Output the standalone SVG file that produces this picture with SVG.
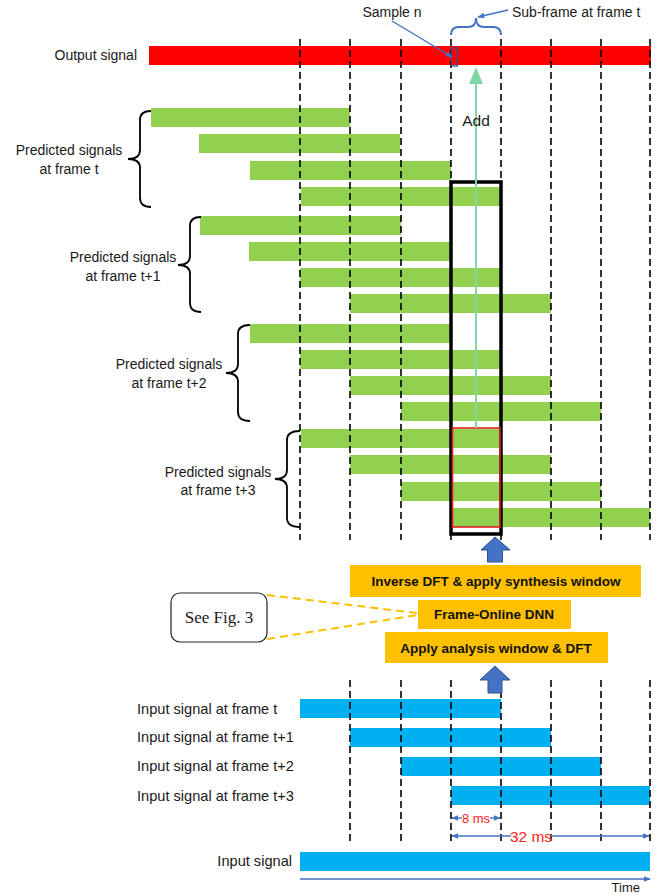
<svg xmlns="http://www.w3.org/2000/svg" width="667" height="896" viewBox="0 0 667 896">
<style>
text{font-family:"Liberation Sans",Arial,sans-serif;fill:#1a1a1a}
.lbl{font-size:14px}
.inl{font-size:14.6px}
.bold{font-size:13.5px;font-weight:bold;text-anchor:middle;fill:#111}
.g{fill:#92d050}
.b{fill:#00b0f0}
.dash{stroke:#000;stroke-width:1.6;stroke-dasharray:7 4;fill:none}
.brace{fill:none;stroke:#000;stroke-width:1.8}
.blue{stroke:#4472c4;stroke-width:1.4;fill:none}
.orange{fill:#ffc000}
</style>
<defs>
<marker id="ah" viewBox="0 0 10 10" refX="9" refY="5" markerWidth="7" markerHeight="7" orient="auto-start-reverse" markerUnits="userSpaceOnUse">
<path d="M0,1 L10,5 L0,9 z" fill="#4472c4"/>
</marker>
</defs>

<g id="output-signal">
<rect x="149" y="46" width="502" height="19" fill="#ff0000"/>
<text class="lbl" x="137" y="60" text-anchor="end">Output signal</text>
</g>

<g id="predicted-t">
<rect class="g" x="151" y="108" width="199" height="19"/>
<rect class="g" x="199" y="134" width="201" height="19"/>
<rect class="g" x="250" y="161" width="201" height="19"/>
<rect class="g" x="301" y="187" width="200" height="19"/>
<path class="brace" d="M151,111 Q140,111 140,120 L140,150 Q140,159 128,159 Q140,159 140,168 L140,198 Q140,207 151,207"/>
<text class="lbl" text-anchor="middle"><tspan x="69" y="155">Predicted signals</tspan><tspan x="69" y="174">at frame t</tspan></text>
</g>

<g id="predicted-t1">
<rect class="g" x="200" y="216" width="201" height="19"/>
<rect class="g" x="249" y="242" width="202" height="19"/>
<rect class="g" x="300" y="268" width="201" height="19"/>
<rect class="g" x="350" y="294" width="201" height="19"/>
<path class="brace" d="M201,217 Q190,217 190,226 L190,256 Q190,265 178,265 Q190,265 190,274 L190,303 Q190,312 201,312"/>
<text class="lbl" text-anchor="middle"><tspan x="123" y="262">Predicted signals</tspan><tspan x="123" y="281">at frame t+1</tspan></text>
</g>

<g id="predicted-t2">
<rect class="g" x="250" y="324" width="201" height="19"/>
<rect class="g" x="300" y="350" width="201" height="19"/>
<rect class="g" x="350" y="376" width="201" height="19"/>
<rect class="g" x="401" y="402" width="200" height="19"/>
<path class="brace" d="M250,325 Q238,325 238,334 L238,364 Q238,373 226,373 Q238,373 238,382 L238,412 Q238,421 250,421"/>
<text class="lbl" text-anchor="middle"><tspan x="169" y="369">Predicted signals</tspan><tspan x="169" y="388">at frame t+2</tspan></text>
</g>

<g id="predicted-t3">
<rect class="g" x="301" y="429" width="200" height="19"/>
<rect class="g" x="350" y="455" width="201" height="19"/>
<rect class="g" x="401" y="482" width="200" height="19"/>
<rect class="g" x="451" y="508" width="199" height="19"/>
<path class="brace" d="M300,431 Q287,431 287,440 L287,470 Q287,479 275,479 Q287,479 287,488 L287,518 Q287,527 300,527"/>
<text class="lbl" text-anchor="middle"><tspan x="218" y="477">Predicted signals</tspan><tspan x="218" y="495">at frame t+3</tspan></text>
</g>

<g id="input-frames">
<rect class="b" x="300" y="699" width="201" height="19"/>
<rect class="b" x="350" y="728" width="201" height="19"/>
<rect class="b" x="401" y="757" width="200" height="19"/>
<rect class="b" x="451" y="786" width="199" height="19"/>
<text class="inl" x="137" y="714">Input signal at frame t</text>
<text class="inl" x="137" y="742">Input signal at frame t+1</text>
<text class="inl" x="137" y="771">Input signal at frame t+2</text>
<text class="inl" x="137" y="801">Input signal at frame t+3</text>
</g>

<g id="input-signal">
<rect class="b" x="300" y="852" width="350" height="19"/>
<text class="inl" x="292" y="866" text-anchor="end">Input signal</text>
</g>

<g id="grid">
<path class="dash" d="M300,39V540M350,39V540M401,39V540M451,39V540M501,39V540M551,39V540M601,39V540M650,39V540"/>
<path class="dash" d="M350,680V843M401,680V843M451,680V843M501,680V843M551,680V843M601,680V843M650,680V843"/>
</g>

<g id="subframe-box">
<rect x="451" y="182" width="50" height="352" fill="none" stroke="#000" stroke-width="3.5"/>
<rect x="452.5" y="428" width="47.5" height="99" fill="none" stroke="#e02020" stroke-width="1.6"/>
</g>

<g id="sample-n">
<rect x="451.5" y="48" width="6" height="18" fill="none" stroke="#2f528f" stroke-width="1.3"/>
<text class="lbl" x="392" y="17" text-anchor="middle">Sample n</text>
</g>

<g id="subframe-label">
<path d="M451,35 Q451,27 459,27 L468,27 Q476,27 476,18 Q476,27 484,27 L493,27 Q501,27 501,35" fill="none" stroke="#4472c4" stroke-width="2"/>
<text class="lbl" x="512" y="17">Sub-frame at frame t</text>
</g>

<g id="ifft">
<rect class="orange" x="350" y="565" width="291" height="32"/>
<text class="bold" x="496" y="586">Inverse DFT &amp; apply synthesis window</text>
</g>
<g id="dnn">
<rect class="orange" x="418" y="600" width="153" height="29"/>
<text class="bold" x="494" y="619">Frame-Online DNN</text>
</g>
<g id="dft">
<rect class="orange" x="385" y="632" width="223" height="31"/>
<text class="bold" x="496" y="653">Apply analysis window &amp; DFT</text>
</g>
<g id="see-fig3">
<rect x="171" y="593" width="96" height="49" rx="9" fill="#fff" stroke="#222" stroke-width="1.2"/>
<text x="219" y="623" text-anchor="middle" style="font-family:'Liberation Serif','Times New Roman',serif;font-size:17px">See Fig. 3</text>
</g>

<g id="connectors">
<path d="M267,595 L417,613 M267,639 L417,615" stroke="#ffc000" stroke-width="2" stroke-dasharray="8 5" fill="none"/>
<line class="blue" x1="392" y1="21" x2="452" y2="57" marker-end="url(#ah)"/>
<line class="blue" x1="508" y1="10" x2="478" y2="17" marker-end="url(#ah)"/>
<line x1="476" y1="428" x2="476" y2="80" stroke="#7fd8a4" stroke-width="2"/>
<polygon points="476,67 469,84 483,84" fill="#7fd8a4"/>
<text x="476" y="126" text-anchor="middle" style="font-size:15.5px">Add</text>
<polygon points="495,537 481,550 487.5,550 487.5,562 502.5,562 502.5,550 510,550" fill="#4472c4" stroke="#2f528f" stroke-width="1"/>
<polygon points="495,666 480,680 488,680 488,693 502,693 502,680 510,680" fill="#4472c4" stroke="#2f528f" stroke-width="1"/>
<line class="blue" x1="462" y1="818" x2="452" y2="818" marker-end="url(#ah)"/>
<line class="blue" x1="490" y1="818" x2="500" y2="818" marker-end="url(#ah)"/>
<text x="476" y="822.5" text-anchor="middle" style="font-size:13px;fill:#ff2020">8 ms</text>
<line class="blue" x1="511" y1="836" x2="452" y2="836" marker-end="url(#ah)"/>
<line class="blue" x1="551" y1="836" x2="649" y2="836" marker-end="url(#ah)"/>
<text x="531" y="841.5" text-anchor="middle" style="font-size:15.5px;fill:#ff2020">32 ms</text>
<line class="blue" x1="300" y1="879" x2="650" y2="879" marker-end="url(#ah)"/>
<text x="640" y="892" text-anchor="end" style="font-size:13px">Time</text>
</g>
</svg>
